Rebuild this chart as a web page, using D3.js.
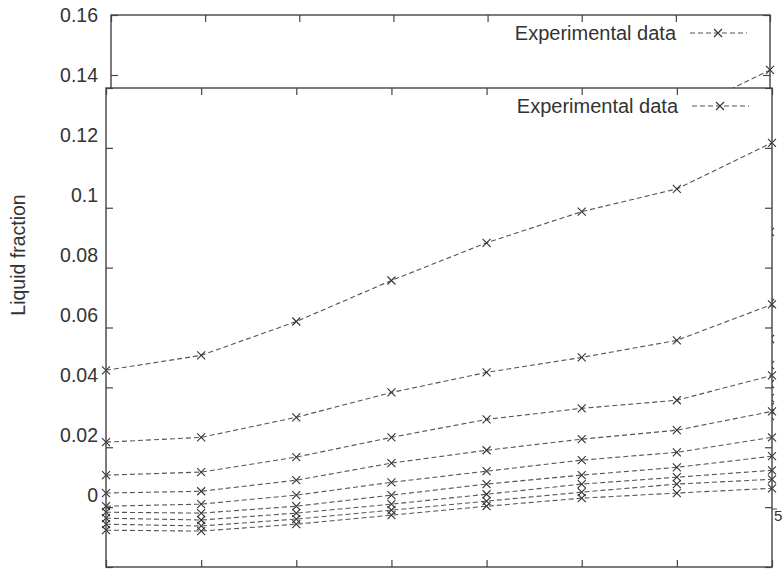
<!doctype html>
<html>
  <head>
    <style>
      body { margin: 0; background: #fff; }
      text { font-family: "Liberation Sans", Arial, sans-serif; fill: #333; }
    </style>
  </head>
  <body>
    <svg width="783" height="570" id="content"></svg>

    <script src="https://cdnjs.cloudflare.com/ajax/libs/d3/7.8.5/d3.min.js"></script>
    <script>
      // x positions have no printed labels in the figure, so just number them
      const xValues = [1, 2, 3, 4, 5, 6, 7, 8]
      const yTicks = [0, 0.02, 0.04, 0.06, 0.08, 0.1, 0.12, 0.14, 0.16]

      // liquid fraction curves, top to bottom
      const curve1 = [0.0657, 0.0707, 0.0820, 0.0957, 0.1083, 0.1187, 0.1263, 0.1417]
      const curve2 = [0.0417, 0.0433, 0.0500, 0.0583, 0.0650, 0.0700, 0.0757, 0.0877]
      const curve3 = [0.0307, 0.0317, 0.0367, 0.0433, 0.0493, 0.0530, 0.0557, 0.0640]
      const curve4 = [0.0247, 0.0253, 0.0290, 0.0347, 0.0390, 0.0427, 0.0457, 0.0520]
      const curve5 = [0.0203, 0.0210, 0.0240, 0.0283, 0.0320, 0.0357, 0.0383, 0.0433]
      const curve6 = [0.0183, 0.0180, 0.0203, 0.0240, 0.0277, 0.0307, 0.0333, 0.0370]
      const curve7 = [0.0163, 0.0157, 0.0180, 0.0210, 0.0243, 0.0277, 0.0300, 0.0323]
      const curve8 = [0.0143, 0.0137, 0.0160, 0.0190, 0.0220, 0.0250, 0.0277, 0.0293]
      const curve9 = [0.0123, 0.0120, 0.0143, 0.0173, 0.0203, 0.0230, 0.0247, 0.0263]
      const curves = [curve1, curve2, curve3, curve4, curve5, curve6, curve7, curve8, curve9]

      const legendLabel = 'Experimental data'

      const svg = d3.select('#content')

      // the scan shows the same plot twice: an upper copy, mostly covered by a second copy shifted down
      drawPanel(svg, 'upper', {left: 111, right: 770, top: 15, bottom: 495}, true)
      drawPanel(svg, 'lower', {left: 106, right: 772, top: 88, bottom: 567}, false)

      // y label of the upper copy
      svg.append('text')
        .attr('transform', 'translate(25, 255) rotate(-90)')
        .attr('text-anchor', 'middle')
        .style('font-size', '19.5px')
        .text('Liquid fraction')

      // stray bit of a neighbouring axis at the right edge
      svg.append('line')
        .attr('x1', 772).attr('x2', 777)
        .attr('y1', 509).attr('y2', 509)
        .style('stroke', '#444')
      svg.append('text')
        .attr('x', 774).attr('y', 521)
        .style('font-size', '15px')
        .text('5')

      function drawPanel (parent, name, box, showLabels) {
        const x = d3.scaleLinear().domain([xValues[0], xValues[xValues.length - 1]]).range([box.left, box.right])
        const y = d3.scaleLinear().domain([0, 0.16]).range([box.bottom, box.top])

        const g = parent.append('g').attr('class', name)

        g.append('rect')
          .attr('x', box.left).attr('y', box.top)
          .attr('width', box.right - box.left).attr('height', box.bottom - box.top)
          .style('fill', '#fff')

        g.append('clipPath').attr('id', `clip-${name}`)
          .append('rect')
          .attr('x', box.left - 6).attr('y', box.top - 6)
          .attr('width', box.right - box.left + 12).attr('height', box.bottom - box.top + 12)

        const fmt = d => String(+d.toFixed(2))

        const left = g.append('g')
          .attr('transform', `translate(${box.left},0)`)
          .call(d3.axisLeft(y).tickValues(yTicks).tickSize(-7).tickPadding(13)
            .tickFormat(showLabels ? fmt : ''))
        const right = g.append('g')
          .attr('transform', `translate(${box.right},0)`)
          .call(d3.axisRight(y).tickValues(yTicks).tickSize(-7).tickFormat(''))
        const top = g.append('g')
          .attr('transform', `translate(0,${box.top})`)
          .call(d3.axisTop(x).tickValues(xValues).tickSize(-7).tickFormat(''))
        const bottom = g.append('g')
          .attr('transform', `translate(0,${box.bottom})`)
          .call(d3.axisBottom(x).tickValues(xValues).tickSize(-7).tickFormat(''))

        ;[left, right, top, bottom].forEach(a => {
          a.select('.domain').remove()
          a.selectAll('line').style('stroke', '#444').style('stroke-width', 1.2)
          a.selectAll('text').style('font-size', '19.5px').style('fill', '#333').style('font-family', '"Liberation Sans", Arial, sans-serif')
        })

        const plot = g.append('g').attr('clip-path', `url(#clip-${name})`)

        const line = d3.line()
          .x((d, i) => x(xValues[i]))
          .y(d => y(d))

        curves.forEach(c => {
          plot.append('path')
            .datum(c)
            .attr('d', line)
            .style('fill', 'none')
            .style('stroke', '#555')
            .style('stroke-width', 1.1)
            .style('stroke-dasharray', '5,3')

          plot.selectAll(null)
            .data(c)
            .enter()
            .append('path')
            .attr('d', (d, i) => cross(x(xValues[i]), y(d), 4))
            .style('stroke', '#333')
            .style('stroke-width', 1.1)
        })

        g.append('rect')
          .attr('x', box.left).attr('y', box.top)
          .attr('width', box.right - box.left).attr('height', box.bottom - box.top)
          .style('fill', 'none')
          .style('stroke', '#444')
          .style('stroke-width', 1.4)

        // legend
        const ly = box.top + 18
        g.append('text')
          .attr('x', box.right - 94).attr('y', ly)
          .attr('dy', '0.35em')
          .attr('text-anchor', 'end')
          .style('font-size', '20px')
          .text(legendLabel)
        g.append('line')
          .attr('x1', box.right - 80).attr('x2', box.right - 23)
          .attr('y1', ly).attr('y2', ly)
          .style('stroke', '#555')
          .style('stroke-width', 1.1)
          .style('stroke-dasharray', '5,3')
        g.append('path')
          .attr('d', cross(box.right - 52, ly, 4))
          .style('stroke', '#333')
          .style('stroke-width', 1.1)
      }

      function cross (cx, cy, r) {
        return `M${cx - r},${cy - r}L${cx + r},${cy + r}M${cx - r},${cy + r}L${cx + r},${cy - r}`
      }
    </script>
  </body>
</html>
